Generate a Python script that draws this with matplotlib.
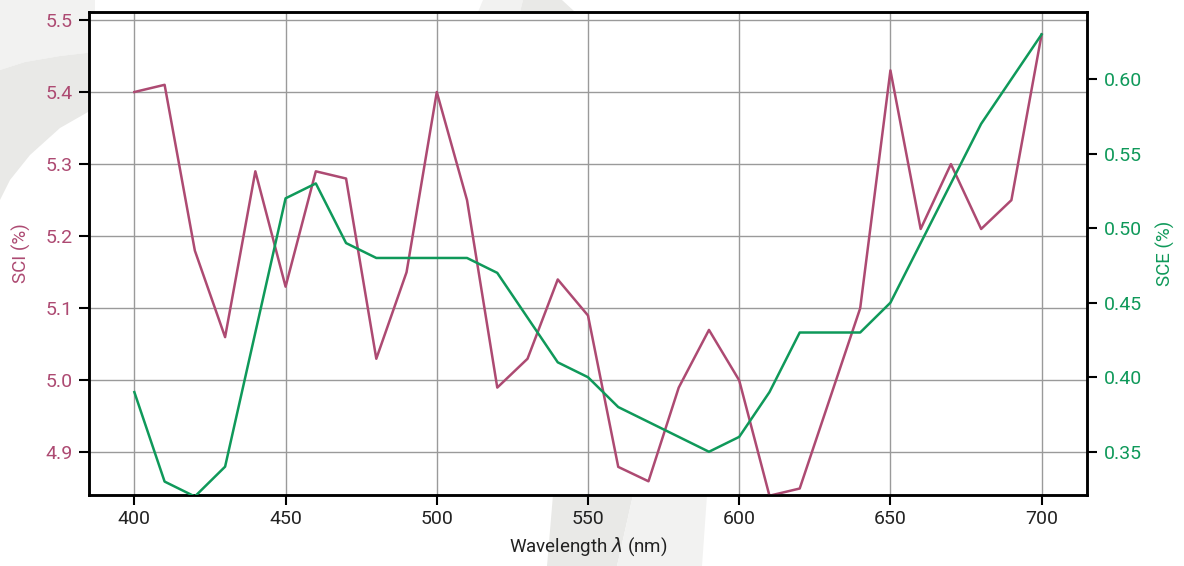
import matplotlib.pyplot as plt
from matplotlib.patches import Polygon

plt.rcParams["font.family"] = ["Roboto", "DejaVu Sans"]

wavelength = list(range(400, 701, 10))
sci = [5.40, 5.41, 5.18, 5.06, 5.29, 5.13, 5.29, 5.28, 5.03, 5.15,
       5.40, 5.25, 4.99, 5.03, 5.14, 5.09, 4.88, 4.86, 4.99, 5.07,
       5.00, 4.84, 4.85, 4.975, 5.10, 5.43, 5.21, 5.30, 5.21, 5.25, 5.48]
sce = [0.39, 0.33, 0.32, 0.34, 0.43, 0.52, 0.53, 0.49, 0.48, 0.48,
       0.48, 0.48, 0.47, 0.44, 0.41, 0.40, 0.38, 0.37, 0.36, 0.35,
       0.36, 0.39, 0.43, 0.43, 0.43, 0.45, 0.49, 0.53, 0.57, 0.60, 0.63]
sci_ticks = [4.9, 5.0, 5.1, 5.2, 5.3, 5.4, 5.5]
sce_ticks = [0.35, 0.40, 0.45, 0.50, 0.55, 0.60]
x_ticks = [400, 450, 500, 550, 600, 650, 700]

sci_color = "#ad4a72"
sce_color = "#0f995a"

fig = plt.figure(figsize=(11.84, 5.66), dpi=100)
fig.patch.set_facecolor("white")

# faint watermark behind the plot, drawn in pixel coordinates
bg = fig.add_axes([0, 0, 1, 1], zorder=-1)
bg.set_xlim(0, 1184)
bg.set_ylim(566, 0)
bg.axis("off")
light = "#f2f2f1"
dark = "#e9e9e7"
bg.add_patch(Polygon([[0, 0], [95, 0], [95, 52], [60, 56], [25, 62], [0, 70]],
                     facecolor=light, edgecolor="none"))
bg.add_patch(Polygon([[0, 70], [25, 62], [60, 56], [95, 52], [95, 108],
                      [60, 128], [30, 155], [10, 180], [0, 200]],
                     facecolor=dark, edgecolor="none"))
bg.add_patch(Polygon([[483, 0], [523, 0], [520, 12], [478, 12]],
                     facecolor=light, edgecolor="none"))
bg.add_patch(Polygon([[523, 0], [562, 0], [575, 12], [520, 12]],
                     facecolor=dark, edgecolor="none"))
bg.add_patch(Polygon([[553, 495], [633, 495], [617, 566], [547, 566]],
                     facecolor=dark, edgecolor="none"))
bg.add_patch(Polygon([[633, 495], [707, 495], [702, 566], [617, 566]],
                     facecolor=light, edgecolor="none"))

ax = fig.add_axes([89 / 1184, 71 / 566, 998 / 1184, 483 / 566])
ax.set_facecolor("white")
ax.plot(wavelength, sci, color=sci_color, lw=1.8, zorder=3)
ax.set_xlim(385, 715)
ax.set_ylim(4.841, 5.511)
ax.set_xticks(x_ticks)
ax.set_yticks(sci_ticks)
ax.set_yticklabels([f"{v:.1f}" for v in sci_ticks])
ax.grid(True, color="#9a9a9a", lw=1.0)
ax.set_axisbelow(True)
ax.tick_params(axis="y", colors="black", labelcolor=sci_color, labelsize=14,
               length=7, width=1.5, pad=5)
ax.tick_params(axis="x", labelsize=14, length=7, width=1.5, labelcolor="#222222")
ax.set_ylabel("SCI (%)", color=sci_color, fontsize=13.5, labelpad=10)
ax.set_xlabel("Wavelength $\\lambda$ (nm)", fontsize=13.5, color="#222222", labelpad=6)

ax2 = ax.twinx()
ax2.plot(wavelength, sce, color=sce_color, lw=1.8, zorder=3)
ax2.set_ylim(0.321, 0.645)
ax2.set_yticks(sce_ticks)
ax2.set_yticklabels([f"{v:.2f}" for v in sce_ticks])
ax2.tick_params(axis="y", colors="black", labelcolor=sce_color, labelsize=14,
                length=7, width=1.5, pad=5)
ax2.set_ylabel("SCE (%)", color=sce_color, fontsize=13.5, labelpad=10)

for a in (ax, ax2):
    for s in a.spines.values():
        s.set_linewidth(1.8)
        s.set_color("black")

fig.savefig("out.png", dpi=100)
